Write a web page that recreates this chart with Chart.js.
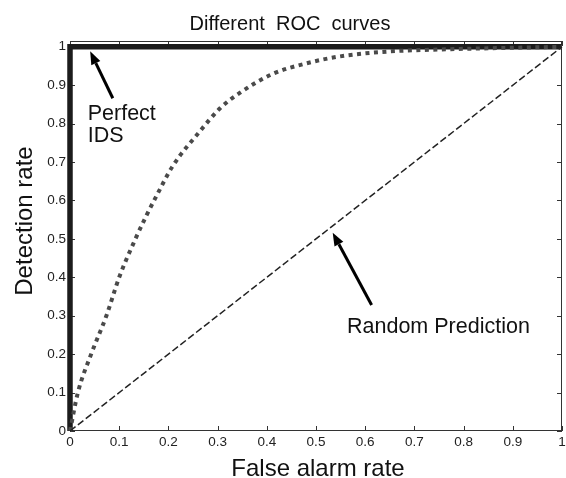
<!DOCTYPE html>
<html>
<head>
<meta charset="utf-8">
<script src="https://cdn.jsdelivr.net/npm/chart.js@4.4.1/dist/chart.umd.min.js"></script>
<style>
  html, body { margin: 0; padding: 0; background: #fff; }
  #wrap { width: 566px; height: 478px; }
</style>
</head>
<body>
<div id="wrap"><canvas id="c" width="566" height="478"></canvas></div>
<script>
// ---- data ----
const chartTitle = 'Different  ROC  curves';
const xTitle = 'False alarm rate';
const yTitle = 'Detection rate';

const xTicks = [0, 0.1, 0.2, 0.3, 0.4, 0.5, 0.6, 0.7, 0.8, 0.9, 1];
const xTickLabels = ['0', '0.1', '0.2', '0.3', '0.4', '0.5', '0.6', '0.7', '0.8', '0.9', '1'];
const yTicks = [0, 0.1, 0.2, 0.3, 0.4, 0.5, 0.6, 0.7, 0.8, 0.9, 1];
const yTickLabels = ['0', '0.1', '0.2', '0.3', '0.4', '0.5', '0.6', '0.7', '0.8', '0.9', '1'];

const perfectX = [0, 0, 1];
const perfectY = [0, 1, 1];

const rocX = [0, 0.016, 0.043, 0.074, 0.10, 0.133, 0.155, 0.175, 0.209, 0.264, 0.305, 0.345, 0.413, 0.481, 0.549, 0.651, 0.752, 0.85, 1.0];
const rocY = [0, 0.10, 0.20, 0.30, 0.40, 0.50, 0.56, 0.61, 0.69, 0.78, 0.84, 0.88, 0.93, 0.957, 0.975, 0.988, 0.993, 0.996, 1.0];

const randomX = [0, 1];
const randomY = [0, 1];

// annotations (data coordinates)
const arrowPerfect = { tail: [0.087, 0.866], tip: [0.041, 0.988] };
const arrowRandom = { tail: [0.613, 0.328], tip: [0.534, 0.516] };
const labelPerfect = { lines: ['Perfect', 'IDS'], x: 0.036, y: [0.81, 0.753] };
const labelRandom = { lines: ['Random Prediction'], x: 0.563, y: [0.255] };

const toPts = (xs, ys) => xs.map((v, i) => ({ x: v, y: ys[i] }));

const FONT = '"Liberation Sans", Arial, Helvetica, sans-serif';

const decor = {
  id: 'decor',
  beforeDatasetsDraw(chart) {
    const { ctx, chartArea: a, scales: { x, y } } = chart;
    ctx.save();
    ctx.strokeStyle = '#333';
    ctx.lineWidth = 1;
    ctx.strokeRect(a.left + 0.5, a.top + 0.5, a.right - a.left - 1, a.bottom - a.top - 1);
    const tl = 5;
    ctx.beginPath();
    xTicks.forEach(v => {
      const px = Math.round(x.getPixelForValue(v)) + 0.5;
      ctx.moveTo(px, a.bottom); ctx.lineTo(px, a.bottom - tl);
      ctx.moveTo(px, a.top); ctx.lineTo(px, a.top + tl);
    });
    yTicks.forEach(v => {
      const py = Math.round(y.getPixelForValue(v)) + 0.5;
      ctx.moveTo(a.left, py); ctx.lineTo(a.left + tl, py);
      ctx.moveTo(a.right, py); ctx.lineTo(a.right - tl, py);
    });
    ctx.stroke();
    ctx.restore();
  },
  afterDatasetsDraw(chart) {
    const { ctx, chartArea: a, scales: { x, y } } = chart;
    ctx.save();
    const drawArrow = (ar) => {
      const x0 = x.getPixelForValue(ar.tail[0]), y0 = y.getPixelForValue(ar.tail[1]);
      const x1 = x.getPixelForValue(ar.tip[0]), y1 = y.getPixelForValue(ar.tip[1]);
      const ang = Math.atan2(y1 - y0, x1 - x0);
      const hl = 13, hw = 5;
      const bx = x1 - hl * Math.cos(ang), by = y1 - hl * Math.sin(ang);
      ctx.strokeStyle = '#000'; ctx.fillStyle = '#000';
      ctx.lineWidth = 3; ctx.lineCap = 'butt';
      ctx.beginPath(); ctx.moveTo(x0, y0); ctx.lineTo(bx, by); ctx.stroke();
      ctx.beginPath();
      ctx.moveTo(x1, y1);
      ctx.lineTo(bx + hw * Math.sin(ang), by - hw * Math.cos(ang));
      ctx.lineTo(bx - hw * Math.sin(ang), by + hw * Math.cos(ang));
      ctx.closePath(); ctx.fill();
    };
    drawArrow(arrowPerfect);
    drawArrow(arrowRandom);

    ctx.fillStyle = '#111';
    ctx.font = '21.5px ' + FONT;
    ctx.textAlign = 'left'; ctx.textBaseline = 'alphabetic';
    [labelPerfect, labelRandom].forEach(l => {
      l.lines.forEach((t, i) => ctx.fillText(t, x.getPixelForValue(l.x), y.getPixelForValue(l.y[i])));
    });

    // titles
    ctx.fillStyle = '#111';
    ctx.textAlign = 'center';
    ctx.font = '20px ' + FONT;
    ctx.fillText(chartTitle, 290, 30);
    ctx.font = '24px ' + FONT;
    ctx.fillText(xTitle, (a.left + a.right) / 2 + 2, 476);
    ctx.save();
    ctx.translate(32, 221);
    ctx.rotate(-Math.PI / 2);
    ctx.fillText(yTitle, 0, 0);
    ctx.restore();
    ctx.restore();
  }
};

new Chart(document.getElementById('c'), {
  type: 'scatter',
  data: {
    datasets: [
      {
        data: toPts(randomX, randomY), showLine: true, borderColor: '#222', borderWidth: 1.5,
        borderDash: [7, 3], pointRadius: 0, clip: 8
      },
      {
        data: toPts(rocX, rocY), showLine: true, borderColor: '#4a4a4a', borderWidth: 4,
        borderDash: [4, 4.5], borderCapStyle: 'butt', cubicInterpolationMode: 'monotone',
        pointRadius: 0, clip: 8
      },
      {
        data: toPts(perfectX, perfectY), showLine: true, borderColor: '#1c1c1c', borderWidth: 5.5,
        pointRadius: 0, clip: 8, borderJoinStyle: 'miter'
      }
    ]
  },
  options: {
    responsive: false,
    animation: false,
    devicePixelRatio: 1,
    layout: { padding: { top: 41, right: 4, left: 0, bottom: 0 } },
    plugins: { legend: { display: false }, tooltip: { enabled: false }, title: { display: false } },
    scales: {
      x: {
        type: 'linear', min: 0, max: 1,
        grid: { display: false, drawTicks: false },
        border: { display: false },
        afterBuildTicks: s => { s.ticks = xTicks.map(v => ({ value: v })); },
        afterFit: s => { s.height = 47; s.paddingLeft = 0; s.paddingRight = 0; },
        ticks: {
          callback: (v, i) => xTickLabels[i], padding: 3, maxRotation: 0, autoSkip: false,
          color: '#222', font: { family: FONT, size: 13.5 }
        }
      },
      y: {
        type: 'linear', min: 0, max: 1.015,
        grid: { display: false, drawTicks: false },
        border: { display: false },
        afterBuildTicks: s => { s.ticks = yTicks.map(v => ({ value: v })); },
        afterFit: s => { s.width = 70; s.paddingTop = 0; s.paddingBottom = 0; },
        ticks: {
          callback: (v, i) => yTickLabels[i], padding: 4, autoSkip: false,
          color: '#222', font: { family: FONT, size: 13.5 }
        }
      }
    }
  },
  plugins: [decor]
});
</script>
</body>
</html>
